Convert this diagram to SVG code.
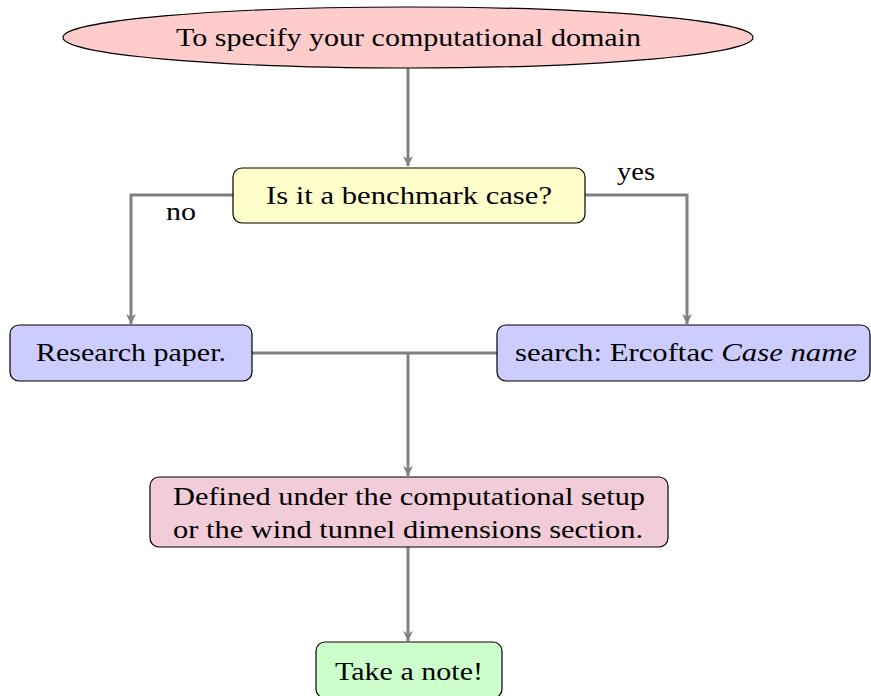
<svg xmlns="http://www.w3.org/2000/svg" width="871" height="696" viewBox="0 0 871 696">
<style>
text{font-family:"Liberation Serif","DejaVu Serif",serif;font-size:25px;fill:#000;text-anchor:middle}
.box{stroke:#000;stroke-width:1.2}
.c{fill:none;stroke:#808080;stroke-width:3}
</style>
<defs>
<marker id="ah" viewBox="0 0 10 10" refX="10" refY="5" markerWidth="10" markerHeight="10" markerUnits="userSpaceOnUse" orient="auto">
<path d="M0,0 L10,5 L0,10 L3,5 Z" fill="#808080"/>
</marker>
</defs>
<rect width="871" height="696" fill="#fff"/>
<g id="connectors">
<path class="c" d="M408,68 V166" marker-end="url(#ah)"/>
<path class="c" d="M233,195 H131 V324" marker-end="url(#ah)"/>
<path class="c" d="M585,195 H687 V324" marker-end="url(#ah)"/>
<path class="c" d="M252,353 H497"/>
<path class="c" d="M408,353 V476" marker-end="url(#ah)"/>
<path class="c" d="M408,547 V641" marker-end="url(#ah)"/>
<text x="181" y="220" textLength="30" lengthAdjust="spacingAndGlyphs">no</text>
<text x="636" y="180" textLength="38" lengthAdjust="spacingAndGlyphs">yes</text>
</g>
<g id="start">
<ellipse class="box" cx="408" cy="37.5" rx="345" ry="30.5" fill="#ffcccc"/>
<text x="408.5" y="46" textLength="465" lengthAdjust="spacingAndGlyphs">To specify your computational domain</text>
</g>
<g id="decision">
<rect class="box" x="233" y="168" width="352" height="55" rx="9" fill="#ffffcc"/>
<text x="409" y="204" textLength="286" lengthAdjust="spacingAndGlyphs">Is it a benchmark case?</text>
</g>
<g id="research">
<rect class="box" x="10" y="325" width="242" height="56" rx="9" fill="#ccccff"/>
<text x="131" y="361" textLength="190" lengthAdjust="spacingAndGlyphs">Research paper.</text>
</g>
<g id="search">
<rect class="box" x="497" y="325" width="373" height="56" rx="9" fill="#ccccff"/>
<text x="686" y="361" textLength="342" lengthAdjust="spacingAndGlyphs">search: Ercoftac <tspan font-style="italic">Case name</tspan></text>
</g>
<g id="defined">
<rect class="box" x="150" y="477" width="518" height="70" rx="9" fill="#f2ccd9"/>
<text x="409" y="505" textLength="472" lengthAdjust="spacingAndGlyphs">Defined under the computational setup</text>
<text x="408" y="538" textLength="470" lengthAdjust="spacingAndGlyphs">or the wind tunnel dimensions section.</text>
</g>
<g id="note">
<rect class="box" x="316" y="642" width="186" height="56" rx="9" fill="#ccffcc"/>
<text x="409" y="680" textLength="148" lengthAdjust="spacingAndGlyphs">Take a note!</text>
</g>
</svg>
